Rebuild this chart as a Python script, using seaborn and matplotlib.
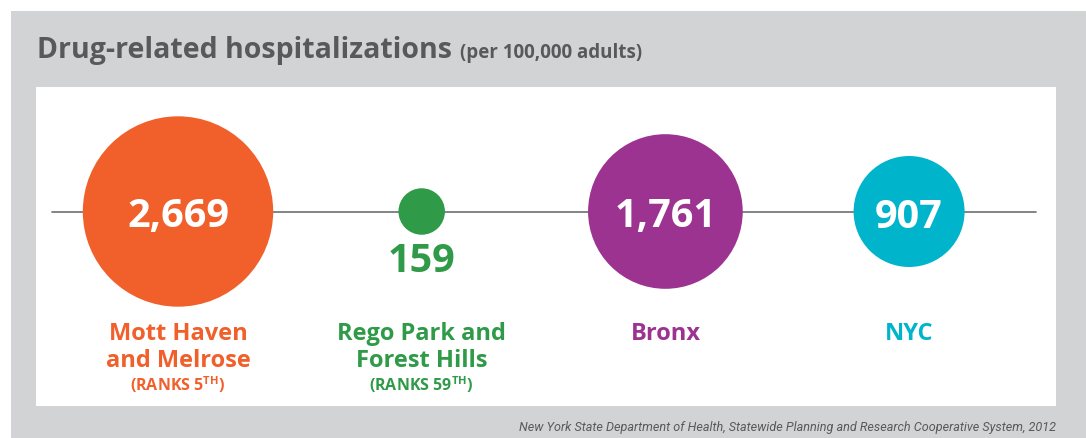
import matplotlib
matplotlib.use("Agg")
import matplotlib.pyplot as plt
from matplotlib.patches import Rectangle
import pandas as pd
import seaborn as sns

# ---- data ----
regions = ["Mott Haven\nand Melrose", "Rego Park and\nForest Hills", "Bronx", "NYC"]
values = [2669, 159, 1761, 907]
value_labels = ["2,669", "159", "1,761", "907"]
ranks = ["(RANKS 5$^{\\mathbf{TH}}$)", "(RANKS 59$^{\\mathbf{TH}}$)", "", ""]
colors = ["#f15f2a", "#2f9a47", "#9c3391", "#00b4cb"]
title = "Drug-related hospitalizations"
subtitle = "(per 100,000 adults)"
source = "New York State Department of Health, Statewide Planning and Research Cooperative System, 2012"

# ---- layout constants (pixels) ----
W, H = 1086, 438
FIRST_X, STEP = 178, 243.7
LINE_Y = 211.5
GRAY = "#d1d3d4"
TEXT_GRAY = "#58595b"
AREA_PER_UNIT = 7.04  # marker area (pt^2) per unit value (area-proportional circles)

sns.set_theme(style="white")
plt.rcParams["font.family"] = ["Open Sans", "DejaVu Sans"]
plt.rcParams["mathtext.fontset"] = "custom"
plt.rcParams["mathtext.rm"] = "Open Sans"
plt.rcParams["mathtext.bf"] = "Open Sans:bold"

fig = plt.figure(figsize=(W / 100, H / 100), dpi=100)
fig.patch.set_facecolor("white")


def fx(x):
    return x / W


def fy(y):
    return 1 - y / H


# gray card and white panel
fig.patches.append(Rectangle((fx(11), 0), 1 - fx(11), fy(11), transform=fig.transFigure,
                             facecolor=GRAY, edgecolor="none", zorder=-10))
fig.patches.append(Rectangle((fx(36), fy(406)), fx(1056) - fx(36), fy(87) - fy(406),
                             transform=fig.transFigure, facecolor="white", edgecolor="none", zorder=-9))

ax = fig.add_axes([0, 0, 1, 1])
ax.set_facecolor("none")
ax.set_zorder(1)

df = pd.DataFrame({"region": regions, "value": values, "y": [LINE_Y] * len(values)})

ax.axhline(LINE_Y, xmin=fx(52), xmax=fx(1036), color="#6d6e71", lw=1.2, zorder=1)

sns.scatterplot(data=df, x="region", y="y", hue="region", palette=colors,
                size="value", sizes=(min(values) * AREA_PER_UNIT, max(values) * AREA_PER_UNIT),
                size_norm=(min(values), max(values)), legend=False, linewidth=0,
                ax=ax, zorder=3)

ax.set_xlim(-FIRST_X / STEP, (W - FIRST_X) / STEP)
ax.set_ylim(H, 0)
ax.axis("off")

for i, (lab, val, vl, rk, col) in enumerate(zip(regions, values, value_labels, ranks, colors)):
    if val > 500:
        ax.text(i, LINE_Y + 16, vl, ha="center", va="baseline", color="white",
                fontsize=28.5, fontweight="bold", zorder=4)
    else:
        ax.text(i, 272, vl, ha="center", va="baseline", color=col,
                fontsize=28.5, fontweight="bold", zorder=4)
    for j, line in enumerate(lab.split("\n")):
        ax.text(i, 340 + 27 * j, line, ha="center", va="baseline", color=col,
                fontsize=17, fontweight="bold")
    if rk:
        ax.text(i, 391, rk, ha="center", va="baseline", color=col,
                fontsize=11.5, fontweight="bold")

t = fig.text(fx(37), fy(57.7), title, ha="left", va="baseline", color=TEXT_GRAY,
             fontsize=20.5, fontweight="bold")
fig.canvas.draw()
bb = t.get_window_extent()
fig.text((bb.x1 + 8) / W, fy(57.7), subtitle, ha="left", va="baseline", color=TEXT_GRAY,
         fontsize=13.5, fontweight="bold")

fig.text(fx(1056), fy(431), source, ha="right", va="baseline", color=TEXT_GRAY,
         fontsize=9.1, fontstyle="italic", family=["Roboto", "DejaVu Sans"])

fig.savefig("out.png", dpi=100, facecolor="white")
